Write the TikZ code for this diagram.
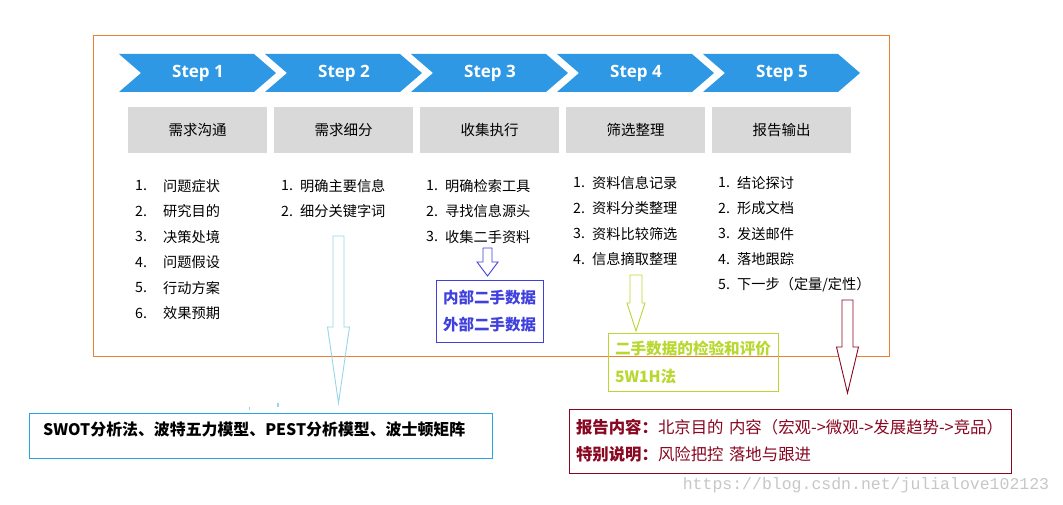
\documentclass[tikz,border=0pt]{standalone}
\usepackage{fontspec}
\setmainfont{Noto Sans CJK SC}
\newfontfamily\stepfont{Open Sans}
\newfontfamily\wmfont{Liberation Mono}
\usetikzlibrary{arrows.meta}
\usepackage{xcolor}
\definecolor{stepblue}{RGB}{46,152,228}
\definecolor{framecol}{RGB}{237,125,49}
\definecolor{boxgray}{RGB}{217,217,217}
\definecolor{swotcyan}{RGB}{40,165,222}
\definecolor{arrcyan}{RGB}{150,214,234}
\definecolor{datablue}{RGB}{64,64,222}
\definecolor{evalgreen}{RGB}{184,216,48}
\definecolor{repred}{RGB}{136,8,34}
% block arrow: style, top point, shaft length, head length, half shaft, half head
\newcommand{\blockarrow}[6]{%
  \draw[#1] (#2) ++(-#5,0) -- ++(2*#5,0) -- ++(0,#3) -- ++(#6-#5,0)
    -- ++(-#6,#4) -- ++(-#6,-#4) -- ++(#6-#5,0) -- cycle;}

\begin{document}
\begin{tikzpicture}[x=1pt, y=-1pt,
    steplabel/.style={text=white, font=\stepfont\bfseries\fontsize{17pt}{20pt}\selectfont, inner sep=0pt},
    taskbox/.style={fill=boxgray, minimum width=139pt, minimum height=46pt, inner sep=0pt, font=\fontsize{14.5pt}{17pt}\selectfont},
    itemtext/.style={anchor=west, inner sep=0pt, font=\fontsize{14.2pt}{17pt}\selectfont},
    notebox/.style={draw, line width=0.9pt, inner sep=0pt}]
    \useasboundingbox (0,0) rectangle (1063,505);
    \fill[white] (0,0) rectangle (1063,505);
    \draw[framecol, line width=0.9pt] (93,35) rectangle (889,356);

    % chevrons and task boxes
    \foreach \t [count=\i] in {需求沟通,需求细分,收集执行,筛选整理,报告输出} {
        \pgfmathsetmacro\L{119+146*(\i-1)}
        \fill[stepblue] (\L,54) -- ++(135,0) -- ++(22,19) -- ++(-22,19) -- ++(-135,0) -- ++(22,-19) -- cycle;
        \node[steplabel] (s\i) at (\L+79,73) {Step \i};
        \node[taskbox] (t\i) at (\L+78.5,130) {\t};
    }

    % lists
    \foreach \t [count=\j] in {问题症状,研究目的,决策处境,问题假设,行动方案,效果预期} {
        \node[itemtext] (n1-\j) at (135,186+25.4*\j-25.4) {\j.};
        \node[itemtext] (c1-\j) at (163,186+25.4*\j-25.4) {\t};
    }
    \foreach \t [count=\j] in {明确主要信息,细分关键字词} {
        \node[itemtext] (n2-\j) at (281,186+25.4*\j-25.4) {\j.};
        \node[itemtext] (c2-\j) at (300,186+25.4*\j-25.4) {\t};
    }
    \foreach \t [count=\j] in {明确检索工具,寻找信息源头,收集二手资料} {
        \node[itemtext] (n3-\j) at (426,186+25.4*\j-25.4) {\j.};
        \node[itemtext] (c3-\j) at (445,186+25.4*\j-25.4) {\t};
    }
    \foreach \t [count=\j] in {资料信息记录,资料分类整理,资料比较筛选,信息摘取整理} {
        \node[itemtext] (n4-\j) at (573,183+25.4*\j-25.4) {\j.};
        \node[itemtext] (c4-\j) at (592,183+25.4*\j-25.4) {\t};
    }
    \foreach \t [count=\j] in {结论探讨,形成文档,发送邮件,落地跟踪,下一步（定量/定性）} {
        \node[itemtext] (n5-\j) at (718,183+25.4*\j-25.4) {\j.};
        \node[itemtext] (c5-\j) at (737,183+25.4*\j-25.4) {\t};
    }

    % arrows
    \coordinate (a2) at (338.5,236);
    \coordinate (a3) at (487.5,248);
    \coordinate (a4) at (636,275);
    \coordinate (a5) at (847.5,300);
    \blockarrow{arrcyan, line width=0.9pt}{a2}{91}{76}{5.5}{11}
    \blockarrow{datablue, fill=white, line width=0.9pt}{a3}{14}{14}{4.5}{10.5}
    \blockarrow{evalgreen, line width=0.9pt}{a4}{28}{28}{6}{9}
    \blockarrow{repred, fill=white, line width=0.9pt}{a5}{47}{46}{5.5}{11}
    \fill[arrcyan] (248.5,407) rectangle (250,410);
    \fill[arrcyan] (277,403) rectangle (279,407);

    % boxes
    \node[notebox, draw=swotcyan, minimum width=463pt, minimum height=45pt] (swot) at (260.5,435.5) {};
    \node[itemtext, font=\bfseries\fontsize{15.9pt}{18pt}\selectfont] (swottxt) at (43,430)
        {SWOT分析法、波特五力模型、PEST分析模型、波士顿矩阵};
    \node[notebox, draw=datablue, minimum width=107pt, minimum height=62pt, align=left,
        text=datablue, font=\bfseries\fontsize{15.5pt}{27pt}\selectfont] (data) at (489.5,311)
        {内部二手数据\\外部二手数据};
    \node[notebox, draw=evalgreen, minimum width=170pt, minimum height=58pt, text width=156pt,
        inner xsep=7pt, align=left, text=evalgreen, font=\bfseries\fontsize{15.6pt}{28pt}\selectfont] (eval) at (693,362)
        {二手数据的检验和评价\\5W1H法};
    \node[notebox, draw=repred, minimum width=442pt, minimum height=64pt, text width=428pt,
        inner xsep=7pt, align=left, text=repred, font=\fontsize{16.4pt}{27pt}\selectfont] (report) at (790,441)
        {\textbf{报告内容：}北京目的 内容（宏观->微观->发展趋势->竞品）\\\textbf{特别说明：}风险把控 落地与跟进};

    \node[text=black!22, font=\wmfont\fontsize{16.5pt}{18pt}\selectfont, inner sep=0pt] (wm) at (866,485)
        {https://blog.csdn.net/julialove102123};
\end{tikzpicture}
\end{document}
